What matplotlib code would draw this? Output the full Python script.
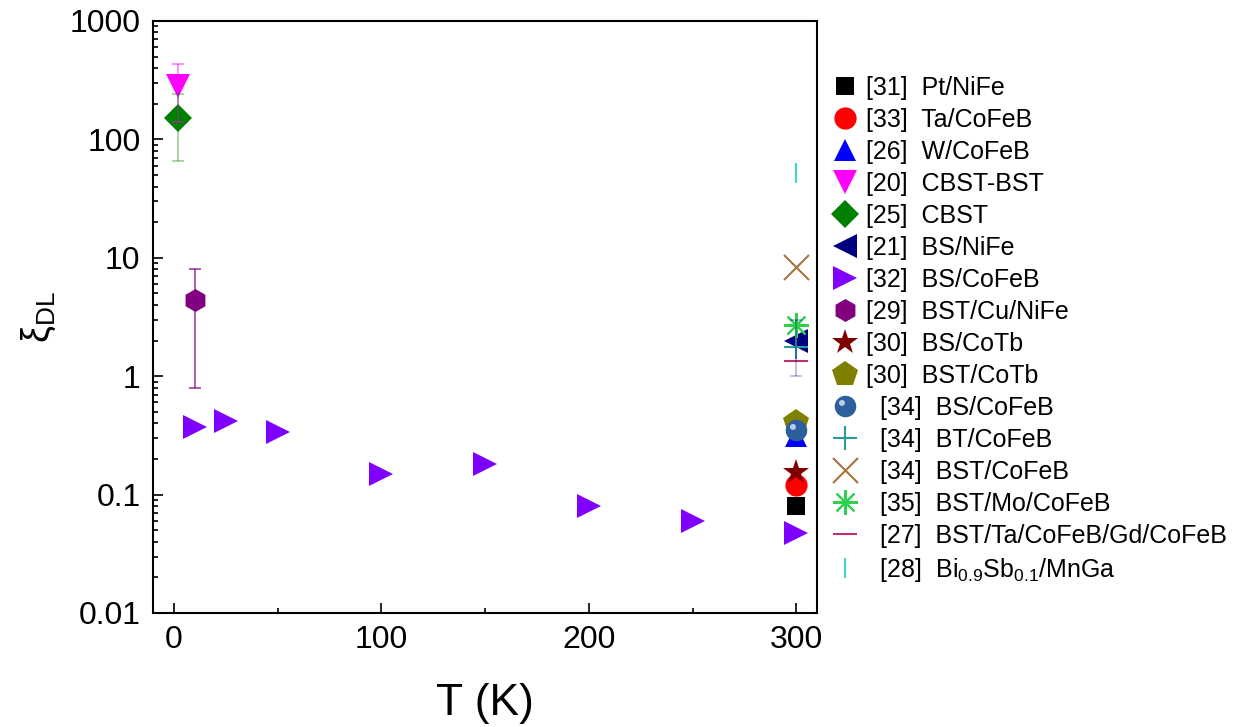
import numpy as np
import matplotlib
matplotlib.use("Agg")
import matplotlib.pyplot as plt
from matplotlib.path import Path
from matplotlib.ticker import FixedLocator, FixedFormatter, NullFormatter

plt.rcParams['font.family'] = ['Liberation Sans', 'DejaVu Sans']
plt.rcParams['mathtext.default'] = 'regular'

# ---------------- data ----------------
T_pt, xi_pt = [300], [0.080]
T_ta, xi_ta = [300], [0.12]
T_w, xi_w = [300], [0.31]
T_cbstbst, xi_cbstbst = [2], [280]
lo_cbstbst, hi_cbstbst = [140], [430]
T_cbst, xi_cbst = [2], [152]
lo_cbst, hi_cbst = [66], [240]
T_bsnife, xi_bsnife = [300], [2.0]
lo_bsnife, hi_bsnife = [1.0], [3.0]
T_bscofeb = [10, 25, 50, 100, 150, 200, 250, 300]
xi_bscofeb = [0.37, 0.42, 0.34, 0.15, 0.18, 0.080, 0.060, 0.047]
T_bstcu, xi_bstcu = [10], [4.4]
lo_bstcu, hi_bstcu = [0.80], [8.0]
T_bscotb, xi_bscotb = [300], [0.155]
T_bstcotb, xi_bstcotb = [300], [0.41]
T_bs34, xi_bs34 = [300], [0.35]
T_bt34, xi_bt34 = [300], [1.75]
T_bst34, xi_bst34 = [300], [8.3]
T_bstmo, xi_bstmo = [300], [2.7]
T_bstgd, xi_bstgd = [300], [1.35]
T_bisb, xi_bisb = [300], [52]

labels = ['[31]  Pt/NiFe', '[33]  Ta/CoFeB', '[26]  W/CoFeB', '[20]  CBST-BST',
          '[25]  CBST', '[21]  BS/NiFe', '[32]  BS/CoFeB', '[29]  BST/Cu/NiFe',
          '[30]  BS/CoTb', '[30]  BST/CoTb', '  [34]  BS/CoFeB', '  [34]  BT/CoFeB',
          '  [34]  BST/CoFeB', '  [35]  BST/Mo/CoFeB', '  [27]  BST/Ta/CoFeB/Gd/CoFeB',
          '  [28]  Bi$_{0.9}$Sb$_{0.1}$/MnGa']

xticks = [0, 100, 200, 300]
xminor = [50, 150, 250]
yticks = [0.01, 0.1, 1, 10, 100, 1000]
yticklabels = ['0.01', '0.1', '1', '10', '100', '1000']

# ---------------- figure ----------------
W, H = 1252, 727
fig = plt.figure(figsize=(W / 100, H / 100), dpi=100)
ax = fig.add_axes([153 / W, 1 - 613 / H, (817 - 153) / W, (613 - 21) / H])
ax.set_yscale('log')

handles = []
def mk(x, y, marker, color, ms, mew=0, **kw):
    h, = ax.plot(x, y, linestyle='none', marker=marker, color=color, ms=ms,
                 mew=mew, **kw)
    handles.append(h)
    return h

mk(T_pt, xi_pt, 's', 'black', 13.5)
mk(T_ta, xi_ta, 'o', 'red', 16)
mk(T_w, xi_w, '^', 'blue', 16)
mk(T_cbstbst, xi_cbstbst, 'v', '#ff00ff', 17)
mk(T_cbst, xi_cbst, 'D', 'green', 14)
mk(T_bsnife, xi_bsnife, '<', '#000080', 17)
mk(T_bscofeb, xi_bscofeb, '>', '#8000ff', 17)
mk(T_bstcu, xi_bstcu, 'h', 'purple', 16.5)
mk(T_bscotb, xi_bscotb, '*', '#800000', 19)
mk(T_bstcotb, xi_bstcotb, 'p', '#808000', 19)

# shaded sphere: base circle + highlight
sph, = ax.plot(T_bs34, xi_bs34, linestyle='none', marker='o', color='#2d5f9e',
               ms=15.5, mew=0)
verts = [(-1, -1), (1, 1)]
codes = [Path.MOVETO, Path.MOVETO]
circ = Path.circle((-0.33, 0.33), 0.28)
hl_path = Path(np.vstack([verts, circ.vertices]),
               np.concatenate([codes, circ.codes]))
hl, = ax.plot(T_bs34, xi_bs34, linestyle='none', marker=hl_path,
              color='#c8d8ee', ms=15.5, mew=0, alpha=0.9)
handles.append((sph, hl))

mk(T_bt34, xi_bt34, '+', '#2a9a9a', 17, mew=1.5)
mk(T_bst34, xi_bst34, 'x', '#a8743c', 18, mew=1.5)
mk(T_bstmo, xi_bstmo, (8, 2, 0), '#2ed04e', 18, mew=1.5)
mk(T_bstgd, xi_bstgd, '_', '#c03070', 17, mew=1.5)
mk(T_bisb, xi_bisb, '|', '#3fd6d6', 15, mew=1.5)

# error bars (drawn on top)
def eb(x, y, lo, hi, color, alpha):
    y = np.array(y); lo = np.array(lo); hi = np.array(hi)
    ax.errorbar(x, y, yerr=[y - lo, hi - y], fmt='none', ecolor=color,
                elinewidth=1.2, capsize=4, capthick=1.2, alpha=alpha, zorder=5)

eb(T_cbstbst, xi_cbstbst, lo_cbstbst, hi_cbstbst, '#ff00ff', 0.5)
eb(T_cbst, xi_cbst, lo_cbst, hi_cbst, 'green', 0.4)
eb(T_bsnife, xi_bsnife, lo_bsnife, hi_bsnife, '#000080', 0.3)
eb(T_bstcu, xi_bstcu, lo_bstcu, hi_bstcu, 'purple', 0.75)

# ---------------- axes styling ----------------
ax.set_xlim(-10, 310)
ax.set_ylim(0.01, 1000)
ax.xaxis.set_major_locator(FixedLocator(xticks))
ax.xaxis.set_minor_locator(FixedLocator(xminor))
ax.yaxis.set_major_locator(FixedLocator(yticks))
ax.yaxis.set_major_formatter(FixedFormatter(yticklabels))
ax.yaxis.set_minor_formatter(NullFormatter())
ax.tick_params(which='both', direction='in', top=False, right=False,
               labelsize=23, width=1.2)
ax.tick_params(which='major', length=7, pad=9)
ax.tick_params(which='minor', length=3.6)
for s in ax.spines.values():
    s.set_linewidth(1.5)

ax.set_xlabel('T (K)', fontsize=32, labelpad=20)
ax.set_ylabel('ξ$_{DL}$', fontsize=27, labelpad=8)

leg = fig.legend(handles, labels, loc='upper left',
                 bbox_to_anchor=(822 / W, 1 - 66 / H),
                 bbox_transform=fig.transFigure, frameon=False,
                 fontsize=18, handlelength=1.0, handletextpad=0.35,
                 labelspacing=0.32, borderaxespad=0, numpoints=1)

fig.savefig('out.png', dpi=100)
